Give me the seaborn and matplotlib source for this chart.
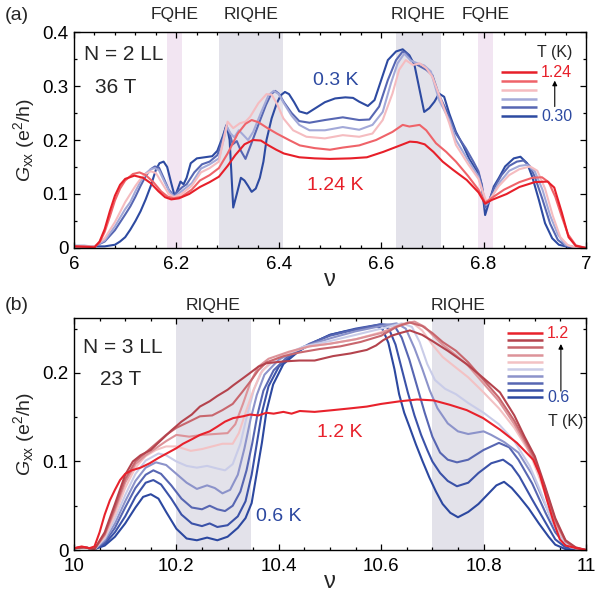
import pandas as pd
import seaborn as sns
import matplotlib.pyplot as plt
from matplotlib.transforms import blended_transform_factory

# ---------------- panel (a): N = 2 LL, 36 T ----------------
# (nu, Gxx), coldest (0.30 K) to hottest (1.24 K)
a_t0 = [(6.00, 0.004), (6.02, 0.004), (6.04, 0.003), (6.06, 0.003), (6.08, 0.006), (6.09, 0.012),
        (6.10, 0.02), (6.11, 0.034), (6.12, 0.05), (6.13, 0.068), (6.14, 0.09), (6.15, 0.115),
        (6.16, 0.145), (6.167, 0.157), (6.175, 0.16), (6.182, 0.15), (6.19, 0.12), (6.197, 0.095),
        (6.203, 0.11), (6.208, 0.123), (6.214, 0.118), (6.22, 0.13), (6.228, 0.157), (6.24, 0.166),
        (6.255, 0.168), (6.27, 0.17), (6.28, 0.18), (6.29, 0.205), (6.298, 0.228), (6.304, 0.2),
        (6.311, 0.075), (6.318, 0.1), (6.326, 0.13), (6.333, 0.125), (6.34, 0.115), (6.347, 0.104),
        (6.355, 0.11), (6.363, 0.13), (6.37, 0.16), (6.376, 0.2), (6.386, 0.24), (6.396, 0.268),
        (6.404, 0.283), (6.412, 0.289), (6.42, 0.285), (6.43, 0.27), (6.44, 0.253), (6.455, 0.249),
        (6.47, 0.258), (6.49, 0.27), (6.51, 0.277), (6.53, 0.279), (6.545, 0.278), (6.557, 0.271),
        (6.574, 0.263), (6.587, 0.274), (6.60, 0.311), (6.613, 0.348), (6.629, 0.364), (6.642, 0.368),
        (6.655, 0.357), (6.665, 0.339), (6.675, 0.293), (6.684, 0.252), (6.694, 0.259), (6.704, 0.271),
        (6.713, 0.286), (6.723, 0.28), (6.733, 0.249), (6.746, 0.215), (6.76, 0.19), (6.772, 0.165),
        (6.781, 0.151), (6.79, 0.138), (6.796, 0.118), (6.803, 0.061), (6.81, 0.083), (6.82, 0.114),
        (6.83, 0.13), (6.842, 0.151), (6.859, 0.166), (6.872, 0.169), (6.885, 0.157), (6.895, 0.132),
        (6.908, 0.089), (6.92, 0.046), (6.934, 0.018), (6.947, 0.006), (6.965, 0.002), (6.98, 0.0),
        (7.00, 0.0)]
a_t1 = [(6.00, 0.003), (6.04, 0.003), (6.06, 0.012), (6.08, 0.033), (6.10, 0.062), (6.11, 0.077),
        (6.12, 0.095), (6.13, 0.115), (6.14, 0.133), (6.15, 0.146), (6.158, 0.151), (6.166, 0.149),
        (6.175, 0.13), (6.185, 0.108), (6.195, 0.097), (6.205, 0.107), (6.212, 0.113), (6.22, 0.118),
        (6.235, 0.14), (6.25, 0.155), (6.265, 0.16), (6.28, 0.172), (6.29, 0.2), (6.297, 0.226),
        (6.303, 0.215), (6.31, 0.192), (6.318, 0.198), (6.326, 0.18), (6.335, 0.165), (6.345, 0.19),
        (6.36, 0.228), (6.375, 0.265), (6.385, 0.285), (6.393, 0.291), (6.40, 0.286), (6.41, 0.27),
        (6.425, 0.25), (6.44, 0.235), (6.46, 0.232), (6.49, 0.237), (6.525, 0.242), (6.557, 0.237),
        (6.577, 0.238), (6.596, 0.262), (6.613, 0.311), (6.629, 0.348), (6.642, 0.364), (6.65, 0.36),
        (6.658, 0.348), (6.671, 0.339), (6.688, 0.33), (6.70, 0.32), (6.713, 0.283), (6.727, 0.256),
        (6.746, 0.212), (6.765, 0.185), (6.78, 0.16), (6.79, 0.142), (6.797, 0.115), (6.803, 0.075),
        (6.81, 0.085), (6.82, 0.11), (6.835, 0.135), (6.85, 0.152), (6.865, 0.16), (6.878, 0.162),
        (6.89, 0.152), (6.90, 0.132), (6.915, 0.09), (6.93, 0.045), (6.945, 0.015), (6.96, 0.004),
        (6.98, 0.001), (7.00, 0.0)]
a_t2 = [(6.00, 0.003), (6.04, 0.003), (6.06, 0.014), (6.08, 0.04), (6.10, 0.072), (6.11, 0.085),
        (6.12, 0.105), (6.13, 0.123), (6.14, 0.138), (6.15, 0.146), (6.158, 0.148), (6.166, 0.144),
        (6.177, 0.122), (6.187, 0.103), (6.196, 0.095), (6.21, 0.105), (6.23, 0.12), (6.248, 0.147),
        (6.265, 0.155), (6.283, 0.166), (6.292, 0.2), (6.298, 0.225), (6.306, 0.212), (6.313, 0.205),
        (6.322, 0.218), (6.33, 0.21), (6.34, 0.2), (6.35, 0.215), (6.365, 0.25), (6.38, 0.283),
        (6.39, 0.291), (6.40, 0.285), (6.41, 0.268), (6.425, 0.245), (6.44, 0.228), (6.46, 0.218),
        (6.49, 0.218), (6.525, 0.224), (6.557, 0.219), (6.583, 0.228), (6.603, 0.252), (6.619, 0.305),
        (6.632, 0.342), (6.645, 0.36), (6.658, 0.347), (6.671, 0.342), (6.684, 0.338), (6.697, 0.327),
        (6.713, 0.274), (6.733, 0.237), (6.746, 0.2), (6.77, 0.162), (6.79, 0.132), (6.797, 0.108),
        (6.805, 0.08), (6.815, 0.092), (6.83, 0.12), (6.85, 0.143), (6.87, 0.152), (6.885, 0.154),
        (6.90, 0.142), (6.915, 0.108), (6.93, 0.06), (6.945, 0.025), (6.96, 0.006), (6.98, 0.001),
        (7.00, 0.0)]
a_t3 = [(6.00, 0.003), (6.04, 0.003), (6.06, 0.018), (6.08, 0.048), (6.10, 0.085), (6.11, 0.1),
        (6.12, 0.115), (6.13, 0.128), (6.14, 0.137), (6.15, 0.142), (6.16, 0.139), (6.172, 0.12),
        (6.185, 0.1), (6.195, 0.094), (6.21, 0.1), (6.23, 0.115), (6.248, 0.14), (6.265, 0.148),
        (6.283, 0.16), (6.292, 0.2), (6.30, 0.234), (6.311, 0.222), (6.324, 0.231), (6.335, 0.234),
        (6.344, 0.243), (6.36, 0.268), (6.376, 0.285), (6.386, 0.284), (6.396, 0.268), (6.409, 0.24),
        (6.428, 0.218), (6.454, 0.206), (6.49, 0.203), (6.525, 0.209), (6.557, 0.206), (6.583, 0.212),
        (6.603, 0.237), (6.622, 0.286), (6.635, 0.33), (6.648, 0.348), (6.662, 0.339), (6.675, 0.342),
        (6.688, 0.333), (6.70, 0.317), (6.717, 0.274), (6.733, 0.231), (6.746, 0.191), (6.77, 0.155),
        (6.79, 0.128), (6.80, 0.1), (6.806, 0.085), (6.815, 0.094), (6.83, 0.115), (6.85, 0.135),
        (6.87, 0.146), (6.891, 0.151), (6.905, 0.143), (6.92, 0.11), (6.935, 0.06), (6.95, 0.02),
        (6.965, 0.005), (6.98, 0.001), (7.00, 0.0)]
a_t4 = [(6.00, 0.003), (6.03, 0.002), (6.04, 0.002), (6.05, 0.01), (6.06, 0.03), (6.07, 0.058),
        (6.08, 0.088), (6.09, 0.11), (6.10, 0.125), (6.115, 0.137), (6.128, 0.14), (6.14, 0.135),
        (6.155, 0.122), (6.17, 0.105), (6.183, 0.095), (6.195, 0.092), (6.21, 0.095), (6.23, 0.108),
        (6.246, 0.125), (6.265, 0.135), (6.283, 0.148), (6.30, 0.175), (6.32, 0.212), (6.335, 0.23),
        (6.347, 0.237), (6.36, 0.233), (6.378, 0.222), (6.396, 0.212), (6.42, 0.2), (6.441, 0.19),
        (6.47, 0.185), (6.50, 0.182), (6.525, 0.186), (6.557, 0.19), (6.59, 0.2), (6.622, 0.215),
        (6.642, 0.228), (6.655, 0.225), (6.675, 0.228), (6.688, 0.218), (6.707, 0.194), (6.727, 0.178),
        (6.746, 0.16), (6.77, 0.133), (6.79, 0.108), (6.803, 0.084), (6.815, 0.092), (6.84, 0.108),
        (6.87, 0.122), (6.895, 0.13), (6.914, 0.131), (6.927, 0.122), (6.94, 0.095), (6.952, 0.06),
        (6.965, 0.025), (6.98, 0.005), (7.00, 0.0)]
a_t5 = [(6.00, 0.003), (6.03, 0.002), (6.04, 0.001), (6.05, 0.012), (6.06, 0.035), (6.07, 0.068),
        (6.08, 0.097), (6.09, 0.117), (6.10, 0.128), (6.118, 0.134), (6.135, 0.13), (6.15, 0.12),
        (6.165, 0.105), (6.178, 0.094), (6.19, 0.09), (6.205, 0.092), (6.225, 0.1), (6.246, 0.113),
        (6.265, 0.122), (6.283, 0.132), (6.30, 0.152), (6.315, 0.172), (6.333, 0.192), (6.35, 0.2),
        (6.365, 0.199), (6.38, 0.19), (6.395, 0.182), (6.41, 0.175), (6.44, 0.168), (6.47, 0.166),
        (6.50, 0.165), (6.54, 0.166), (6.572, 0.168), (6.604, 0.178), (6.637, 0.19), (6.656, 0.197),
        (6.67, 0.196), (6.685, 0.192), (6.702, 0.178), (6.72, 0.16), (6.74, 0.145), (6.767, 0.126),
        (6.79, 0.103), (6.803, 0.082), (6.816, 0.089), (6.845, 0.1), (6.87, 0.113), (6.90, 0.122),
        (6.925, 0.123), (6.938, 0.112), (6.953, 0.065), (6.966, 0.02), (6.98, 0.004), (7.00, 0.0)]
a_curves = [a_t0, a_t1, a_t2, a_t3, a_t4, a_t5]
a_colors = ['#2d4aa1', '#5767b3', '#a3a9d8', '#f5bcc0', '#ef6369', '#e71f29']
a_legend_ends = ['1.24', '0.30']

# ---------------- panel (b): N = 3 LL, 23 T ----------------
# coldest (0.6 K) to hottest (1.2 K)
b_t0 = [(10.00, 0.002), (10.02, 0.003), (10.04, 0.001), (10.06, 0.005), (10.08, 0.015), (10.10, 0.03),
        (10.12, 0.048), (10.135, 0.06), (10.15, 0.063), (10.165, 0.058), (10.18, 0.043), (10.20, 0.024),
        (10.22, 0.013), (10.24, 0.011), (10.26, 0.014), (10.28, 0.011), (10.30, 0.015), (10.32, 0.025),
        (10.335, 0.036), (10.347, 0.053), (10.357, 0.087), (10.367, 0.121), (10.376, 0.157),
        (10.389, 0.187), (10.409, 0.21), (10.44, 0.225), (10.47, 0.235), (10.50, 0.243), (10.53, 0.247),
        (10.56, 0.25), (10.59, 0.253), (10.603, 0.249), (10.614, 0.234), (10.626, 0.204), (10.635, 0.176),
        (10.645, 0.155), (10.656, 0.138), (10.668, 0.119), (10.681, 0.1), (10.694, 0.082), (10.707, 0.066),
        (10.72, 0.052), (10.735, 0.042), (10.75, 0.037), (10.77, 0.043), (10.79, 0.052), (10.81, 0.064),
        (10.825, 0.073), (10.84, 0.077), (10.855, 0.07), (10.87, 0.06), (10.888, 0.047), (10.908, 0.03),
        (10.927, 0.015), (10.94, 0.006), (10.96, 0.001), (11.00, 0.0)]
b_t1 = [(10.00, 0.002), (10.02, 0.003), (10.04, 0.001), (10.06, 0.007), (10.08, 0.02), (10.10, 0.038),
        (10.12, 0.06), (10.14, 0.076), (10.155, 0.079), (10.17, 0.074), (10.19, 0.058), (10.21, 0.04),
        (10.23, 0.03), (10.25, 0.027), (10.265, 0.03), (10.28, 0.026), (10.30, 0.028), (10.32, 0.038),
        (10.335, 0.055), (10.347, 0.085), (10.357, 0.12), (10.367, 0.155), (10.38, 0.185), (10.40, 0.207),
        (10.43, 0.222), (10.47, 0.235), (10.50, 0.243), (10.55, 0.25), (10.60, 0.255), (10.615, 0.25),
        (10.628, 0.232), (10.64, 0.205), (10.652, 0.178), (10.665, 0.152), (10.678, 0.13), (10.69, 0.113),
        (10.70, 0.1), (10.715, 0.087), (10.73, 0.078), (10.748, 0.072), (10.77, 0.076), (10.79, 0.087),
        (10.815, 0.098), (10.838, 0.102), (10.855, 0.095), (10.87, 0.083), (10.895, 0.057),
        (10.921, 0.031), (10.94, 0.012), (10.96, 0.003), (11.00, 0.0)]
b_t2 = [(10.00, 0.002), (10.02, 0.003), (10.04, 0.001), (10.06, 0.009), (10.08, 0.025), (10.10, 0.048),
        (10.12, 0.07), (10.14, 0.085), (10.155, 0.09), (10.17, 0.086), (10.19, 0.073), (10.21, 0.058),
        (10.23, 0.048), (10.25, 0.046), (10.265, 0.05), (10.28, 0.046), (10.295, 0.044), (10.31, 0.05),
        (10.325, 0.066), (10.337, 0.09), (10.348, 0.12), (10.358, 0.152), (10.37, 0.18), (10.39, 0.203),
        (10.42, 0.22), (10.46, 0.233), (10.50, 0.242), (10.55, 0.249), (10.60, 0.255), (10.625, 0.254),
        (10.64, 0.24), (10.655, 0.215), (10.67, 0.185), (10.685, 0.155), (10.70, 0.128), (10.715, 0.11),
        (10.73, 0.102), (10.748, 0.099), (10.77, 0.102), (10.80, 0.113), (10.83, 0.121), (10.85, 0.116),
        (10.868, 0.102), (10.895, 0.075), (10.921, 0.042), (10.94, 0.02), (10.96, 0.006), (10.98, 0.001),
        (11.00, 0.0)]
b_t3 = [(10.00, 0.002), (10.02, 0.003), (10.04, 0.001), (10.06, 0.011), (10.08, 0.03), (10.10, 0.055),
        (10.12, 0.078), (10.14, 0.093), (10.16, 0.099), (10.18, 0.096), (10.20, 0.086), (10.22, 0.076),
        (10.24, 0.069), (10.26, 0.073), (10.275, 0.07), (10.29, 0.064), (10.305, 0.068), (10.32, 0.085),
        (10.333, 0.115), (10.345, 0.148), (10.357, 0.175), (10.372, 0.198), (10.40, 0.215), (10.45, 0.23),
        (10.50, 0.239), (10.55, 0.247), (10.60, 0.253), (10.63, 0.256), (10.648, 0.25), (10.665, 0.228),
        (10.68, 0.205), (10.695, 0.18), (10.71, 0.16), (10.73, 0.143), (10.75, 0.134), (10.77, 0.131),
        (10.79, 0.133), (10.80, 0.134), (10.815, 0.13), (10.84, 0.122), (10.868, 0.11), (10.895, 0.085),
        (10.92, 0.052), (10.94, 0.025), (10.96, 0.008), (10.98, 0.002), (11.00, 0.0)]
b_t4 = [(10.00, 0.002), (10.02, 0.003), (10.04, 0.001), (10.06, 0.013), (10.08, 0.035), (10.10, 0.062),
        (10.12, 0.086), (10.14, 0.101), (10.165, 0.109), (10.18, 0.107), (10.20, 0.1), (10.22, 0.095),
        (10.24, 0.093), (10.26, 0.095), (10.28, 0.092), (10.295, 0.09), (10.31, 0.097), (10.325, 0.12),
        (10.338, 0.152), (10.352, 0.182), (10.368, 0.203), (10.40, 0.218), (10.45, 0.23), (10.50, 0.236),
        (10.55, 0.243), (10.60, 0.25), (10.64, 0.256), (10.66, 0.252), (10.675, 0.235), (10.69, 0.21),
        (10.705, 0.192), (10.725, 0.182), (10.746, 0.176), (10.77, 0.166), (10.80, 0.155), (10.83, 0.142),
        (10.86, 0.123), (10.89, 0.095), (10.91, 0.068), (10.93, 0.038), (10.95, 0.014), (10.97, 0.003),
        (11.00, 0.0)]
b_t5 = [(10.00, 0.002), (10.02, 0.003), (10.04, 0.001), (10.06, 0.015), (10.08, 0.04), (10.10, 0.07),
        (10.12, 0.093), (10.14, 0.106), (10.16, 0.113), (10.18, 0.117), (10.20, 0.117), (10.228, 0.112),
        (10.25, 0.114), (10.27, 0.117), (10.29, 0.12), (10.31, 0.12), (10.322, 0.132), (10.335, 0.155),
        (10.35, 0.18), (10.365, 0.2), (10.385, 0.213), (10.42, 0.223), (10.46, 0.23), (10.50, 0.233),
        (10.55, 0.238), (10.60, 0.246), (10.64, 0.254), (10.66, 0.257), (10.68, 0.248), (10.70, 0.232),
        (10.72, 0.218), (10.746, 0.206), (10.77, 0.195), (10.80, 0.178), (10.83, 0.16), (10.86, 0.138),
        (10.89, 0.11), (10.91, 0.08), (10.93, 0.048), (10.95, 0.018), (10.97, 0.004), (11.00, 0.0)]
b_t6 = [(10.00, 0.002), (10.02, 0.003), (10.04, 0.001), (10.06, 0.017), (10.08, 0.045), (10.10, 0.076),
        (10.12, 0.097), (10.14, 0.107), (10.16, 0.115), (10.18, 0.123), (10.20, 0.13), (10.225, 0.128),
        (10.25, 0.13), (10.275, 0.131), (10.30, 0.132), (10.315, 0.142), (10.33, 0.165), (10.345, 0.19),
        (10.36, 0.207), (10.38, 0.216), (10.42, 0.224), (10.46, 0.23), (10.50, 0.233), (10.55, 0.238),
        (10.60, 0.245), (10.64, 0.255), (10.665, 0.258), (10.685, 0.252), (10.70, 0.243), (10.72, 0.232),
        (10.746, 0.22), (10.77, 0.208), (10.80, 0.188), (10.83, 0.168), (10.86, 0.142), (10.88, 0.122),
        (10.90, 0.1), (10.92, 0.068), (10.94, 0.032), (10.96, 0.01), (10.98, 0.002), (11.00, 0.0)]
b_t7 = [(10.00, 0.002), (10.02, 0.003), (10.04, 0.001), (10.06, 0.018), (10.08, 0.048), (10.10, 0.08),
        (10.12, 0.1), (10.14, 0.11), (10.16, 0.12), (10.18, 0.13), (10.20, 0.138), (10.225, 0.145),
        (10.246, 0.151), (10.27, 0.152), (10.29, 0.158), (10.31, 0.165), (10.328, 0.178), (10.344, 0.19),
        (10.36, 0.203), (10.376, 0.212), (10.41, 0.219), (10.44, 0.223), (10.48, 0.227), (10.52, 0.23),
        (10.56, 0.235), (10.60, 0.242), (10.63, 0.252), (10.655, 0.257), (10.68, 0.253), (10.70, 0.245),
        (10.72, 0.235), (10.746, 0.225), (10.77, 0.212), (10.80, 0.192), (10.83, 0.172), (10.86, 0.146),
        (10.88, 0.125), (10.90, 0.103), (10.92, 0.07), (10.94, 0.034), (10.96, 0.01), (10.98, 0.002),
        (11.00, 0.0)]
b_t8 = [(10.00, 0.002), (10.02, 0.003), (10.04, 0.001), (10.06, 0.02), (10.08, 0.052), (10.10, 0.085),
        (10.115, 0.1), (10.13, 0.107), (10.15, 0.113), (10.17, 0.124), (10.19, 0.135), (10.21, 0.145),
        (10.23, 0.153), (10.246, 0.162), (10.265, 0.168), (10.28, 0.174), (10.30, 0.181), (10.311, 0.186),
        (10.33, 0.194), (10.344, 0.2), (10.36, 0.207), (10.376, 0.211), (10.41, 0.213), (10.44, 0.214),
        (10.47, 0.214), (10.506, 0.219), (10.54, 0.222), (10.572, 0.226), (10.59, 0.231), (10.604, 0.237),
        (10.62, 0.242), (10.637, 0.245), (10.656, 0.248), (10.68, 0.243), (10.70, 0.236), (10.73, 0.225),
        (10.767, 0.21), (10.80, 0.194), (10.832, 0.178), (10.86, 0.152), (10.88, 0.128), (10.90, 0.106),
        (10.92, 0.072), (10.94, 0.036), (10.96, 0.011), (10.98, 0.003), (11.00, 0.0)]
b_t9 = [(10.00, 0.002), (10.015, 0.004), (10.03, 0.002), (10.04, 0.004), (10.05, 0.02), (10.06, 0.04),
        (10.07, 0.056), (10.08, 0.068), (10.09, 0.079), (10.10, 0.086), (10.113, 0.09), (10.13, 0.093),
        (10.148, 0.098), (10.165, 0.104), (10.181, 0.109), (10.20, 0.115), (10.213, 0.12), (10.23, 0.125),
        (10.246, 0.13), (10.265, 0.134), (10.279, 0.139), (10.295, 0.145), (10.311, 0.149), (10.33, 0.151),
        (10.344, 0.153), (10.36, 0.152), (10.376, 0.155), (10.39, 0.154), (10.409, 0.156), (10.425, 0.154),
        (10.441, 0.157), (10.47, 0.156), (10.506, 0.158), (10.54, 0.16), (10.572, 0.162), (10.60, 0.165),
        (10.637, 0.168), (10.67, 0.17), (10.702, 0.169), (10.734, 0.164), (10.767, 0.158), (10.799, 0.149),
        (10.832, 0.136), (10.865, 0.121), (10.897, 0.102), (10.91, 0.085), (10.923, 0.058), (10.936, 0.033),
        (10.949, 0.012), (10.96, 0.005), (10.975, 0.003), (11.00, 0.0)]
b_curves = [b_t0, b_t1, b_t2, b_t3, b_t4, b_t5, b_t6, b_t7, b_t8, b_t9]
b_colors = ['#2c48a0', '#3b52a8', '#5766b2', '#8c93ca', '#c9cce8', '#f3c2c4', '#dd9399',
            '#c8666d', '#b4434d', '#e8222c']
b_legend_ends = ['1.2', '0.6']

# shaded regimes (nu ranges)
a_fqhe = [(6.182, 6.211), (6.789, 6.818)]
a_riqhe = [(6.283, 6.408), (6.629, 6.717)]
b_riqhe = [(10.20, 10.345), (10.70, 10.80)]

a_xticks = [6, 6.2, 6.4, 6.6, 6.8, 7]
a_xticklabels = ['6', '6.2', '6.4', '6.6', '6.8', '7']
a_yticks = [0, 0.1, 0.2, 0.3, 0.4]
a_yticklabels = ['0', '0.1', '0.2', '0.3', '0.4']
b_xticks = [10, 10.2, 10.4, 10.6, 10.8, 11]
b_xticklabels = ['10', '10.2', '10.4', '10.6', '10.8', '11']
b_yticks = [0, 0.1, 0.2]
b_yticklabels = ['0', '0.1', '0.2']

sns.set_style('ticks')
plt.rcParams['font.family'] = ['Liberation Sans', 'DejaVu Sans']
plt.rcParams['mathtext.fontset'] = 'custom'
plt.rcParams['mathtext.rm'] = 'Liberation Sans'
plt.rcParams['mathtext.it'] = 'Liberation Sans:italic'

GRAY = '#e3e2ea'
PINK = '#f2e5f2'


def to_frame(curves):
    rows = []
    for i, pts in enumerate(curves):
        for nu, g in pts:
            rows.append((i, nu, g))
    return pd.DataFrame(rows, columns=['curve', 'nu', 'G'])


def style_axes(ax, xlim, ylim, xticks, xlabels, yticks, ylabels, xminor, yminor):
    ax.set_xlim(*xlim)
    ax.set_ylim(*ylim)
    ax.set_xticks(xticks)
    ax.set_xticklabels(xlabels)
    ax.set_yticks(yticks)
    ax.set_yticklabels(ylabels)
    ax.xaxis.set_minor_locator(plt.MultipleLocator(xminor))
    ax.yaxis.set_minor_locator(plt.MultipleLocator(yminor))
    ax.tick_params(which='both', direction='in', top=True, right=True, width=0.9, colors='black')
    ax.tick_params(which='major', length=4.5, labelsize=13.5, pad=4)
    ax.tick_params(which='minor', length=2.5)
    ax.tick_params(axis='x', pad=6)
    for s in ax.spines.values():
        s.set_linewidth(1.0)
        s.set_color('black')
    ax.set_xlabel('ν', fontsize=17, labelpad=-3)
    ax.set_ylabel(r'$G_{\mathrm{xx}}$ (e$^2$/h)', fontsize=14, labelpad=4)


def draw_key(ax, colors, x0, x1, ytop, dy, ends, tx, ty_label, arrow_x, arrow_y):
    # custom temperature key: hottest on top
    for i, c in enumerate(reversed(colors)):
        y = ytop - i * dy
        ax.plot([x0, x1], [y, y], color=c, lw=1.8, transform=ax.transAxes, solid_capstyle='butt')
    ybot = ytop - (len(colors) - 1) * dy
    ax.text(x1 + 0.008, ytop, ends[0], color=colors[-1], fontsize=11.5, va='center',
            transform=ax.transAxes)
    ax.text(x1 + 0.008, ybot, ends[1], color=colors[0], fontsize=11.5, va='center',
            transform=ax.transAxes)
    ax.text(tx, ty_label, 'T (K)', fontsize=11.5, ha='center', va='center', transform=ax.transAxes)
    ax.annotate('', xy=(arrow_x, arrow_y[1]), xytext=(arrow_x, arrow_y[0]), xycoords='axes fraction',
                arrowprops=dict(arrowstyle='-|>', lw=0.8, color='black', mutation_scale=7,
                                shrinkA=0, shrinkB=0))


fig = plt.figure(figsize=(6.02, 5.93), dpi=100)
ax_a = fig.add_axes([0.1229, 0.5818, 0.8505, 0.3642])
ax_b = fig.add_axes([0.1229, 0.0725, 0.8505, 0.3912])

# ---- (a) ----
for lo, hi in a_fqhe:
    ax_a.axvspan(lo, hi, color=PINK, lw=0, zorder=0)
for lo, hi in a_riqhe:
    ax_a.axvspan(lo, hi, color=GRAY, lw=0, zorder=0)
df_a = to_frame(a_curves)
sns.lineplot(data=df_a, x='nu', y='G', hue='curve', palette=a_colors, estimator=None, sort=False,
             lw=1.5, legend=False, ax=ax_a)
style_axes(ax_a, (6, 7), (0, 0.4), a_xticks, a_xticklabels, a_yticks, a_yticklabels, 0.04, 0.05)
tr_a = blended_transform_factory(ax_a.transData, ax_a.transAxes)
for (lo, hi), lab in zip(a_fqhe + a_riqhe, ['FQHE', 'FQHE', 'RIQHE', 'RIQHE']):
    ax_a.text((lo + hi) / 2, 1.079, lab, transform=tr_a, ha='center', va='center', fontsize=12.5)
ax_a.text(0.02, 0.898, 'N = 2 LL', transform=ax_a.transAxes, fontsize=15, va='center')
ax_a.text(0.041, 0.745, '36 T', transform=ax_a.transAxes, fontsize=15, va='center')
ax_a.text(6.466, 0.311, '0.3 K', color=a_colors[0], fontsize=14, va='center')
ax_a.text(6.456, 0.115, '1.24 K', color=a_colors[-1], fontsize=14, va='center')
draw_key(ax_a, a_colors, 0.834, 0.904, 0.813, 0.0404, a_legend_ends, 0.939, 0.905,
         0.939, (0.655, 0.775))

# ---- (b) ----
for lo, hi in b_riqhe:
    ax_b.axvspan(lo, hi, color=GRAY, lw=0, zorder=0)
df_b = to_frame(b_curves)
sns.lineplot(data=df_b, x='nu', y='G', hue='curve', palette=b_colors, estimator=None, sort=False,
             lw=1.5, legend=False, ax=ax_b)
style_axes(ax_b, (10, 11), (0, 0.262), b_xticks, b_xticklabels, b_yticks, b_yticklabels, 0.05, 0.05)
tr_b = blended_transform_factory(ax_b.transData, ax_b.transAxes)
for lo, hi in b_riqhe:
    ax_b.text((lo + hi) / 2, 1.056, 'RIQHE', transform=tr_b, ha='center', va='center', fontsize=12.5)
ax_b.text(0.018, 0.875, 'N = 3 LL', transform=ax_b.transAxes, fontsize=15, va='center')
ax_b.text(0.051, 0.737, '23 T', transform=ax_b.transAxes, fontsize=15, va='center')
ax_b.text(10.474, 0.133, '1.2 K', color=b_colors[-1], fontsize=14, va='center')
ax_b.text(10.356, 0.038, '0.6 K', color=b_colors[0], fontsize=14, va='center')
draw_key(ax_b, b_colors, 0.846, 0.916, 0.934, 0.0305, b_legend_ends, 0.96, 0.556,
         0.951, (0.685, 0.888))

fig.text(5 / 602, 1 - 15 / 593, '(a)', fontsize=14, va='center')
fig.text(5 / 602, 1 - 305 / 593, '(b)', fontsize=14, va='center')

fig.savefig('out.png', dpi=100)
